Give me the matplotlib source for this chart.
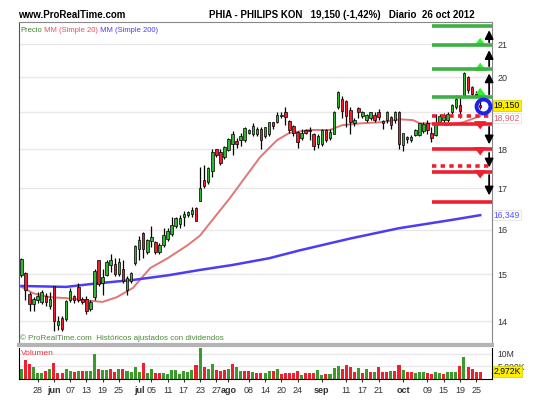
import matplotlib.pyplot as plt
from matplotlib.ticker import NullLocator
import numpy as np

# daily candles 22 May 2012 .. 26 Oct 2012 (index = trading day)
opens = [14.97, 15.0, 14.55, 14.35, 14.45, 14.4, 14.5, 14.32, 14.72, 13.93,
         14.05, 14.05, 14.45, 14.5, 14.7, 14.45, 14.45, 14.25, 14.5, 15.3,
         14.8, 14.97, 15.2, 15.2, 15.0, 15.1, 14.65, 14.85, 15.25, 15.55,
         15.9, 15.5, 15.75, 15.7, 15.5, 15.65, 15.8, 15.9, 16.1, 16.15,
         16.3, 16.35, 16.38, 16.5, 16.7, 17.2, 17.15, 17.45, 17.98, 17.9,
         17.8, 17.98, 18.15, 18.2, 18.25, 18.25, 18.45, 18.4, 18.4, 18.52,
         18.35, 18.4, 18.72, 18.75, 18.9, 19.0, 18.75, 18.6, 18.45, 18.3,
         18.5, 18.5, 18.4, 18.15, 18.15, 18.5, 18.3, 18.42, 19.15, 19.35,
         19.3, 19.05, 18.7, 19.1, 18.9, 18.8, 18.85, 18.92, 19.0, 18.75,
         18.78, 18.85, 18.78, 19.0, 18.12, 18.3, 18.25, 18.38, 18.38, 18.5,
         18.68, 18.43, 18.38, 18.75, 18.78, 18.8, 19.0, 19.15, 19.2, 19.5,
         20.0, 19.7, 19.5, 19.2]
closes = [15.31, 14.65, 14.35, 14.45, 14.5, 14.6, 14.4, 14.45, 14.0, 13.98,
          13.85, 14.4, 14.62, 14.45, 14.45, 14.4, 14.2, 14.38, 15.05, 14.78,
          14.92, 15.25, 15.3, 15.0, 15.25, 14.85, 14.9, 15.0, 15.6, 15.75,
          15.55, 15.75, 15.82, 15.5, 15.62, 15.85, 15.95, 16.1, 16.25, 16.25,
          16.35, 16.4, 16.45, 16.2, 17.0, 17.05, 17.5, 17.9, 17.85, 17.65,
          18.05, 18.25, 18.4, 18.15, 18.35, 18.55, 18.5, 18.6, 18.52, 18.25,
          18.57, 18.73, 18.62, 18.9, 18.92, 18.87, 18.52, 18.45, 18.2, 18.42,
          18.45, 18.48, 18.1, 18.35, 18.5, 18.25, 18.45, 19.0, 19.55, 19.05,
          18.9, 18.75, 18.78, 19.0, 18.98, 18.92, 18.98, 18.8, 18.88, 18.7,
          19.0, 18.65, 18.98, 18.15, 18.42, 18.28, 18.32, 18.5, 18.68, 18.65,
          18.52, 18.3, 18.7, 18.87, 18.9, 18.93, 19.2, 19.35, 19.05, 20.1,
          19.65, 19.52, 19.45, 19.15]
highs = [15.35, 15.05, 14.6, 14.5, 14.6, 14.66, 14.58, 14.6, 14.75, 14.1,
         14.1, 14.45, 14.7, 14.55, 14.8, 14.5, 14.52, 14.45, 15.1, 15.3,
         15.1, 15.3, 15.45, 15.35, 15.35, 15.3, 14.95, 15.05, 15.65, 15.85,
         15.95, 15.8, 16.1, 15.75, 15.7, 16.05, 16.05, 16.3, 16.3, 16.35,
         16.45, 16.45, 16.55, 16.55, 17.55, 17.6, 17.55, 18.0, 18.0, 18.0,
         18.1, 18.3, 18.5, 18.3, 18.45, 18.6, 18.55, 18.7, 18.6, 18.6,
         18.6, 18.75, 18.75, 19.0, 19.0, 19.15, 18.8, 18.65, 18.5, 18.55,
         18.55, 18.6, 18.45, 18.4, 18.55, 18.55, 18.55, 19.05, 19.6, 19.45,
         19.35, 19.15, 18.85, 19.15, 19.05, 18.95, 19.0, 19.0, 19.1, 18.8,
         19.05, 18.9, 19.05, 19.05, 18.45, 18.35, 18.38, 18.55, 18.72, 18.75,
         18.8, 18.6, 18.95, 18.95, 18.98, 19.0, 19.25, 19.5, 19.45, 20.15,
         20.05, 19.75, 19.6, 19.4]
lows = [14.93, 14.45, 14.2, 14.2, 14.38, 14.35, 14.32, 14.25, 13.8, 13.82,
        13.8, 14.0, 14.4, 14.38, 14.4, 14.35, 14.15, 14.2, 14.45, 14.75,
        14.55, 14.95, 15.05, 14.95, 14.95, 14.8, 14.55, 14.8, 15.2, 15.3,
        15.35, 15.45, 15.6, 15.45, 15.45, 15.6, 15.75, 15.85, 16.05, 16.05,
        16.1, 16.3, 16.3, 16.2, 16.7, 17.0, 17.1, 17.3, 17.8, 17.6,
        17.75, 17.95, 17.85, 18.05, 18.1, 18.2, 18.4, 18.35, 18.35, 18.0,
        18.3, 18.35, 18.55, 18.7, 18.85, 18.65, 18.45, 18.35, 18.05, 18.25,
        18.4, 18.25, 17.98, 18.05, 18.1, 18.2, 18.25, 18.4, 19.1, 18.85,
        18.6, 18.4, 18.62, 18.85, 18.85, 18.75, 18.8, 18.75, 18.8, 18.55,
        18.7, 18.55, 18.7, 18.0, 17.95, 18.18, 18.2, 18.35, 18.35, 18.45,
        18.4, 18.2, 18.35, 18.7, 18.72, 18.75, 18.95, 19.1, 18.85, 19.45,
        19.55, 19.45, 19.4, 19.1]

# volume in millions, colour G/R per bar
volumes = [4.1, 7.7, 6.1, 4.7, 2.4, 2.3, 3.3, 4.0, 6.3, 2.4,
           2.5, 4.1, 3.3, 2.7, 3.2, 3.2, 3.3, 3.3, 10.1, 4.0,
           3.7, 3.7, 4.0, 2.7, 3.9, 4.1, 3.3, 2.9, 4.9, 2.9,
           6.3, 2.3, 3.9, 2.3, 2.4, 2.5, 2.1, 3.7, 3.7, 2.0,
           3.2, 2.7, 3.5, 5.5, 12.3, 4.9, 4.0, 6.1, 3.6, 3.3,
           3.7, 4.0, 6.0, 4.7, 3.2, 3.2, 3.2, 2.7, 2.4, 2.4,
           2.4, 3.1, 3.3, 3.9, 1.9, 2.4, 2.4, 2.4, 3.1, 1.7,
           2.3, 2.4, 2.5, 3.5, 1.7, 2.0, 2.1, 4.4, 5.3, 4.0,
           5.5, 4.9, 2.9, 4.5, 2.3, 3.9, 2.9, 2.9, 4.9, 2.7,
           2.9, 3.2, 3.2, 5.5, 3.7, 2.9, 2.7, 2.4, 2.8, 2.7,
           2.5, 2.0, 2.8, 2.5, 1.9, 2.8, 2.9, 2.8, 5.3, 8.7,
           4.7, 4.1, 2.7, 2.972]
vol_dir = ("GRRGGGRGRR" "RGGRGRGGGR" "GGRRGRGGGG" "RGGRRGGGGG" "GGGRGRGGRR"
           "RGRGGRRGRR" "GGRGRRRRRG" "RRRGGRGGGR" "RRRGRGRGRR" "RGRRGRRGGG"
           "RRGGRGGGRG" "RRRR")

# moving averages (day index, value)
ma20_idx = [0, 3, 7, 11, 15, 20, 23.5, 27.5, 31.7, 36, 41, 44, 47, 51.4, 54.6,
            58.8, 63, 66, 71, 76, 79, 83.4, 88.3, 93.2, 96.4, 98.2, 100.6,
            104.8, 108.8, 113]
ma20_val = [14.72, 14.58, 14.5, 14.48, 14.44, 14.4, 14.5, 14.7, 15.13, 15.35,
            15.65, 15.87, 16.23, 16.77, 17.21, 17.8, 18.25, 18.44, 18.52, 18.52,
            18.65, 18.7, 18.73, 18.81, 18.79, 18.7, 18.7, 18.65, 18.73, 18.902]
ma200_idx = [0, 11, 19, 27.5, 36, 44, 52, 61, 68.6, 81, 93, 105.6, 113]
ma200_val = [14.74, 14.72, 14.8, 14.87, 14.97, 15.09, 15.2, 15.35, 15.53, 15.8,
             16.04, 16.23, 16.349]

tick_pos = [4, 8, 12, 16, 20, 24, 29, 32, 36, 40, 44, 48, 51, 56, 60, 64, 68,
            74, 80, 84, 88, 94, 100, 104, 108, 112]
tick_lab = ['28', 'jun', '07', '13', '19', '25', 'jul', '05', '11', '17', '23',
            '27', 'ago', '08', '14', '20', '24', 'sep', '11', '17', '21', 'oct',
            '09', '15', '19', '25']
months = ['jun', 'jul', 'ago', 'sep', 'oct']

# support / resistance levels drawn at the right
res_levels = [21.56, 20.97, 20.25, 19.43]
sup_levels = [18.68, 18.01, 17.41, 16.66]
sup_dashed = [18.90, 17.57]

GREEN = '#33b533'
RED = '#ee2030'
plt.rcParams['font.family'] = ['Liberation Sans', 'DejaVu Sans']

fig = plt.figure(figsize=(5.41, 4.03), dpi=100)
ax = fig.add_axes([0.0351, 0.1439, 0.8743, 0.8015])
axv = fig.add_axes([0.0351, 0.0596, 0.8743, 0.0769], sharex=ax)

n = len(closes)
x = np.arange(n)
o = np.array(opens)
c = np.array(closes)
up = c >= o

ax.set_yscale('log')
ax.vlines(x, lows, highs, color='black', lw=0.9, zorder=3)
ax.bar(x, np.abs(c - o) + 0.02, bottom=np.minimum(o, c), width=0.62,
       color=[GREEN if u else RED for u in up], edgecolor='black', lw=0.5, zorder=4)

ax.plot(ma20_idx, ma20_val, color='#e27575', lw=1.4, zorder=2)
ax.plot(ma200_idx, ma200_val, color='#4b3cf5', lw=1.8, zorder=2)

ax.set_xlim(-0.6, 115.9)
ax.set_ylim(13.52, 21.69)
ax.yaxis.tick_right()
ax.set_yticks([14, 15, 16, 17, 18, 20, 21])
ax.set_yticklabels(['14', '15', '16', '17', '18', '20', '21'])
ax.yaxis.set_minor_locator(NullLocator())
ax.tick_params(axis='y', labelsize=6.5, length=0, pad=4, colors='#333333')
ax.tick_params(axis='x', bottom=False, labelbottom=False)
for lv in [14, 15, 16, 17, 18, 19, 20, 21]:
    ax.axhline(lv, color='#e8e8e8', lw=1, zorder=0)
for s in ['top', 'right']:
    ax.spines[s].set_color('#888888')
ax.spines['left'].set_color('#555555')
ax.spines['bottom'].set_color('#b4b4b4')
ax.spines['bottom'].set_linewidth(3)

# levels
for lv in res_levels:
    ax.hlines(lv, 101.1, 115.9, color='#3cb043', lw=2.6, zorder=5)
for lv in sup_levels:
    ax.hlines(lv, 101.1, 115.9, color=RED, lw=2.6, zorder=5)
for lv in sup_dashed:
    ax.hlines(lv, 101.1, 115.9, color=RED, lw=2.6, linestyles=(0, (1.2, 1.2)), zorder=5)

# small coloured arrows
for tip, base in [(21.28, 21.03), (20.52, 20.31), (19.78, 19.58)]:
    ax.annotate('', xy=(113, tip), xytext=(113, base),
                arrowprops=dict(arrowstyle='simple,head_width=0.9,head_length=0.6,tail_width=0.35',
                                color='#33ee33', lw=0))
for tip, base in [(18.46, 18.65), (17.77, 17.92), (17.18, 17.36)]:
    ax.annotate('', xy=(113, tip), xytext=(113, base),
                arrowprops=dict(arrowstyle='simple,head_width=0.9,head_length=0.6,tail_width=0.35',
                                color=RED, lw=0))
# black arrows
for tip, base in [(21.52, 20.97), (20.9, 20.25), (20.2, 19.43),
                  (18.06, 18.68), (17.46, 17.98), (16.76, 17.41)]:
    ax.annotate('', xy=(115.2, tip), xytext=(115.2, base),
                arrowprops=dict(arrowstyle='-|>,head_width=0.25,head_length=0.5',
                                color='black', lw=1.3))

ax.plot([113.6], [19.18], marker='o', ms=10, mfc='none', mec='#2020ee', mew=2.8, zorder=6)

# right side value boxes
yt = ax.get_yaxis_transform()
ax.text(1.004, 19.2, '19,150', transform=yt, fontsize=6.2, va='center', ha='left',
        color='black', bbox=dict(boxstyle='square,pad=0.08', fc='#ffee00', ec='#cccc00', lw=0.5))
ax.text(1.004, 18.85, '18,902', transform=yt, fontsize=6.2, va='center', ha='left',
        color='#e06070', bbox=dict(boxstyle='square,pad=0.08', fc='white', ec='#dddddd', lw=0.5))
ax.text(1.004, 16.349, '16,349', transform=yt, fontsize=6.2, va='center', ha='left',
        color='#5050ff', bbox=dict(boxstyle='square,pad=0.08', fc='white', ec='#dddddd', lw=0.5))

# legend and notes, chained one after another
t1 = ax.text(0.0036, 0.985, 'Precio', transform=ax.transAxes, fontsize=5.5,
             color='#3a8a2a', va='top')
t2 = ax.annotate(' MM (Simple 20)', xy=(1, 0), xycoords=t1, fontsize=5.5,
                 color='#e05060', va='bottom', ha='left')
ax.annotate(' MM (Simple 200)', xy=(1, 0), xycoords=t2, fontsize=5.5,
            color='#4b3cf5', va='bottom', ha='left')
ax.text(0.003, 0.008, '\u00a9 ProRealTime.com  Hist\u00f3ricos ajustados con dividendos',
        transform=ax.transAxes, fontsize=5.8, color='#4a8a3a', va='bottom')

fig.text(18 / 541, 1 - 15 / 403, 'www.ProRealTime.com', fontsize=7, fontweight='bold', va='center')
fig.text(209 / 541, 1 - 15 / 403, 'PHIA - PHILIPS KON   19,150 (-1,42%)   Diario  26 oct 2012',
         fontsize=7, fontweight='bold', va='center')

# volume
axv.bar(x, np.array(volumes) * 1e6, width=0.75,
        color=['#3a9a2a' if d == 'G' else RED for d in vol_dir])
axv.set_ylim(0, 12.4e6)
axv.yaxis.tick_right()
axv.set_yticks([5e6, 10e6])
axv.set_yticklabels(['5,000K', '10M'])
axv.tick_params(axis='y', labelsize=6.2, length=0, pad=4, colors='#333333')
for lv in [5e6, 10e6]:
    axv.axhline(lv, color='#e8e8e8', lw=1, zorder=0)
axv.spines['top'].set_visible(False)
axv.text(0.005, 0.95, 'Volumen', transform=axv.transAxes, fontsize=6, color='#ee3040', va='top')
axv.text(1.004, 2.972e6, '2,972K', transform=axv.get_yaxis_transform(), fontsize=6.2,
         va='center', ha='left', zorder=10,
         bbox=dict(boxstyle='square,pad=0.08', fc='#ffee00', ec='#cccc00', lw=0.5))

axv.set_xticks(tick_pos)
axv.set_xticklabels(tick_lab)
axv.tick_params(axis='x', labelsize=6.5, length=2, pad=3, colors='#333333')
for t in axv.get_xticklabels():
    if t.get_text() in months:
        t.set_fontweight('bold')

fig.savefig('out.png', dpi=100)
